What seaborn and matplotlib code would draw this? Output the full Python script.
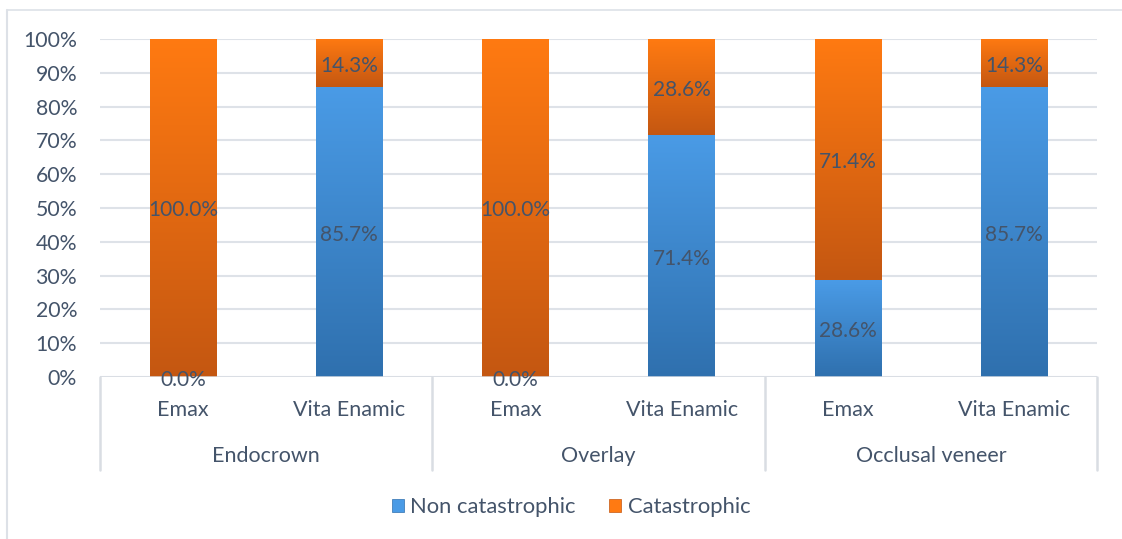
import numpy as np
import pandas as pd
import matplotlib
matplotlib.use("Agg")
import matplotlib.pyplot as plt
import matplotlib.colors as mcolors
import matplotlib.transforms as mtrans
from matplotlib.patches import Patch
from matplotlib.lines import Line2D
import seaborn as sns

groups = ["Endocrown", "Overlay", "Occlusal veneer"]
materials = ["Emax", "Vita Enamic"]
non_catastrophic = [0.0, 85.7, 0.0, 71.4, 28.6, 85.7]
catastrophic = [100.0, 14.3, 100.0, 28.6, 71.4, 14.3]
series_names = ["Non catastrophic", "Catastrophic"]
yticks = [0, 10, 20, 30, 40, 50, 60, 70, 80, 90, 100]

TEXT = "#44546A"
GRID = "#DEE2E8"
blue_top, blue_bot = "#4A9BE6", "#2F70AE"
orange_top, orange_bot = "#FF7A12", "#C45711"

sns.set_theme(style="white")
plt.rcParams["font.family"] = ["Lato", "DejaVu Sans"]

labels = [f"{g}|{m}" for g in groups for m in materials]
total = [a + b for a, b in zip(non_catastrophic, catastrophic)]
df = pd.DataFrame({"bar": labels, "non": non_catastrophic, "cat": catastrophic, "total": total})

W, H = 1122, 539
fig = plt.figure(figsize=(W / 100, H / 100), dpi=100)
ax = fig.add_axes([100 / W, 1 - 377 / H, (1097 - 100) / W, (377 - 39) / H])

sns.barplot(data=df, x="bar", y="total", color=orange_top, width=0.4, ax=ax, zorder=2)
n_or = len(ax.patches)
sns.barplot(data=df, x="bar", y="non", color=blue_top, width=0.4, ax=ax, zorder=3)
orange_patches = ax.patches[:n_or]
blue_patches = ax.patches[n_or:]

def grad(c_top, c_bot):
    t = np.array(mcolors.to_rgb(c_top))
    b = np.array(mcolors.to_rgb(c_bot))
    f = np.linspace(0, 1, 256)[:, None]
    return (t * (1 - f) + b * f)[:, None, :]

for po, pb in zip(orange_patches, blue_patches):
    x0, w = po.get_x(), po.get_width()
    hb = pb.get_height()
    ht = po.get_height()
    po.set_visible(False)
    pb.set_visible(False)
    if ht - hb > 0:
        ax.imshow(grad(orange_top, orange_bot), extent=(x0, x0 + w, hb, ht),
                  aspect="auto", zorder=2, interpolation="bilinear")
    if hb > 0:
        ax.imshow(grad(blue_top, blue_bot), extent=(x0, x0 + w, 0, hb),
                  aspect="auto", zorder=3, interpolation="bilinear")

# data labels
down = ax.transData + mtrans.ScaledTranslation(0, -2.5 / 100, fig.dpi_scale_trans)
for i, (n, c) in enumerate(zip(non_catastrophic, catastrophic)):
    ax.text(i, n / 2, f"{n:.1f}%", ha="center", va="center", color=TEXT, fontsize=15,
            zorder=5, transform=down)
    ax.text(i, n + c / 2, f"{c:.1f}%", ha="center", va="center", color=TEXT, fontsize=15,
            zorder=5, transform=down)

ax.set_xlim(-0.5, len(labels) - 0.5)
ax.set_ylim(0, 100)
ax.set_yticks(yticks)
ax.set_yticklabels([f"{v}%" for v in yticks], fontsize=15.3, color=TEXT)
ax.tick_params(axis="y", length=0, pad=16.5)
ax.yaxis.grid(True, color=GRID, lw=1.5, zorder=0)
ax.set_axisbelow(True)
for s in ax.spines.values():
    s.set_visible(False)
ax.axhline(0, color="#D9DDE3", lw=1.8, zorder=4)
ax.set_xticks([])
ax.set_xlabel("")
ax.set_ylabel("")

trans = mtrans.blended_transform_factory(ax.transData, ax.transAxes)
sub_y = -(410 - 377) / 338
grp_y = -(456 - 377) / 338
sep_bottom = -(470 - 377) / 338
for i, lab in enumerate(labels):
    ax.text(i, sub_y, lab.split("|")[1], transform=trans, ha="center", va="center",
            fontsize=15.5, color=TEXT)
for g_i, g in enumerate(groups):
    ax.text(g_i * 2 + 0.5, grp_y, g, transform=trans, ha="center", va="center",
            fontsize=15.5, color=TEXT)
for b in range(len(groups) + 1):
    ax.add_line(Line2D([b * 2 - 0.5, b * 2 - 0.5], [0, sep_bottom], transform=trans,
                       color="#D9DDE3", lw=1.8, clip_on=False))

# outer frame (top and left)
fig.add_artist(Line2D([7 / W, 1], [1 - 10 / H, 1 - 10 / H], color="#DDE1E7", lw=1.2))
fig.add_artist(Line2D([7 / W, 7 / W], [0, 1 - 10 / H], color="#DDE1E7", lw=1.5))

handles = [Patch(facecolor=blue_top, edgecolor=blue_bot, lw=0.5),
           Patch(facecolor=orange_top, edgecolor=orange_bot, lw=0.5)]
fig.legend(handles, series_names, loc="center", bbox_to_anchor=(571 / W, 1 - 507 / H),
           ncol=2, frameon=False, fontsize=15.8, labelcolor=TEXT,
           handlelength=0.55, handleheight=0.55, handletextpad=0.3, columnspacing=1.5)

fig.savefig("out.png", dpi=100)
